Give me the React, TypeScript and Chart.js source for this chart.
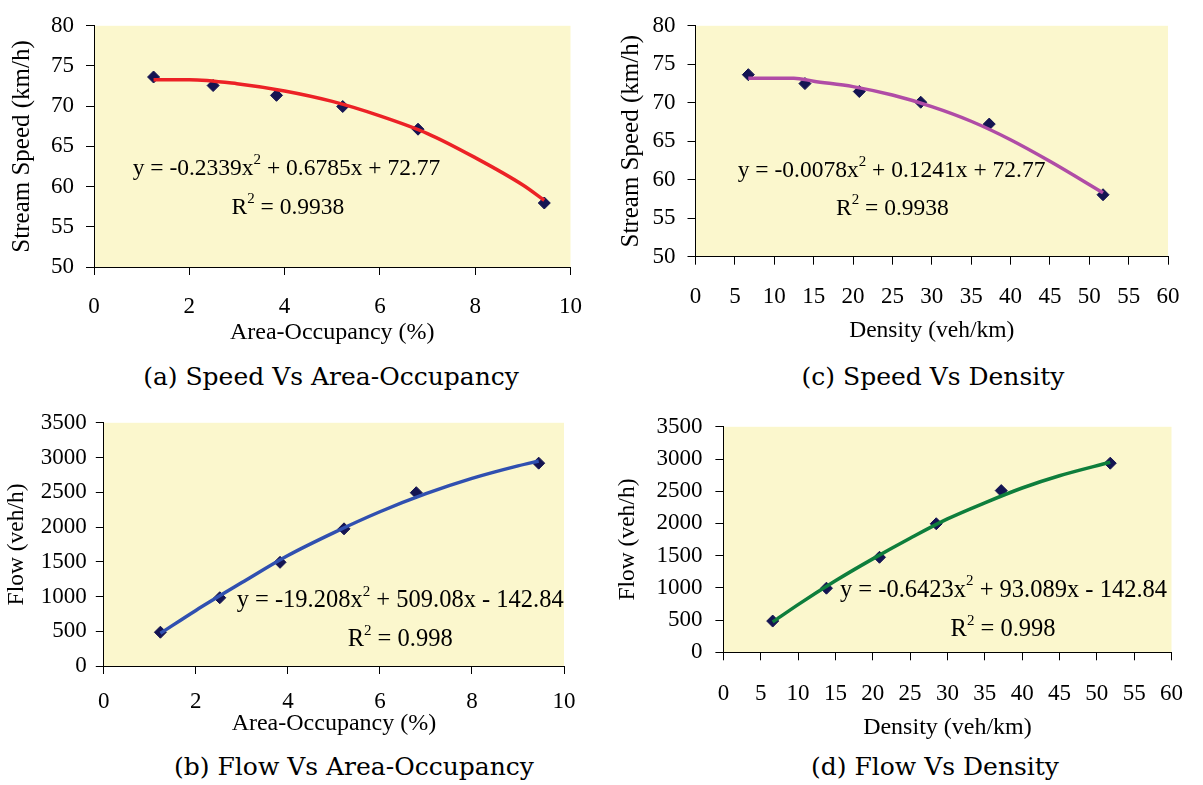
import React, { useEffect, useRef } from "react";
import { Chart, registerables } from "chart.js";

Chart.register(...registerables);

// ---------- (a) Speed vs Area-Occupancy ----------
const occA = [1.25, 2.5, 3.83, 5.22, 6.8, 9.45];
const speedA = [73.63, 72.57, 71.35, 69.96, 67.14, 57.96];
const trendOccA = [1.25, 2, 3, 4, 5, 6, 7, 8, 9, 9.45];
const trendSpeedA = [73.3, 73.3, 72.8, 71.9, 70.6, 68.8, 66.6, 63.6, 60.2, 58.3];

// ---------- (c) Speed vs Density ----------
const denC = [6.71, 13.9, 20.8, 28.6, 37.3, 51.75];
const speedC = [73.65, 72.49, 71.46, 70.07, 67.23, 58.05];
const trendDenC = [6.7, 10, 12.5, 15, 20, 25, 30, 35, 40, 45, 51.75];
const trendSpeedC = [73.2, 73.2, 73.2, 72.8, 72.1, 71.0, 69.5, 67.6, 65.2, 62.4, 58.3];

// ---------- (b) Flow vs Area-Occupancy ----------
const occB = [1.23, 2.52, 3.83, 5.22, 6.79, 9.45];
const flowB = [486, 982, 1492, 1974, 2494, 2919];
const trendOccB = [1.23, 2, 3, 4, 5, 6, 7, 8, 9, 9.45];
const trendFlowB = [470, 800, 1200, 1590, 1920, 2220, 2480, 2700, 2880, 2950];

// ---------- (d) Flow vs Density ----------
const denD = [6.6, 13.8, 20.9, 28.5, 37.2, 51.8];
const flowD = [485, 995, 1475, 1995, 2510, 2935];
const trendDenD = [6.6, 10, 15, 20, 25, 30, 35, 40, 45, 51.8];
const trendFlowD = [470, 740, 1110, 1450, 1770, 2070, 2320, 2550, 2740, 2950];

// ---------- text ----------
const captions = [
  "(a) Speed Vs Area-Occupancy",
  "(c) Speed Vs Density",
  "(b) Flow Vs Area-Occupancy",
  "(d) Flow Vs Density",
];
const xTitles = ["Area-Occupancy (%)", "Density (veh/km)", "Area-Occupancy (%)", "Density (veh/km)"];
const yTitles = ["Stream Speed (km/h)", "Stream Speed (km/h)", "Flow (veh/h)", "Flow (veh/h)"];

type Part = [string, boolean];
type Note = { x: number; y: number; parts: Part[] };

const notesA: Note[] = [
  { x: 4.04, y: 62.25, parts: [["y = -0.2339x", false], ["2", true], [" + 0.6785x + 72.77", false]] },
  { x: 4.07, y: 57.35, parts: [["R", false], ["2", true], [" = 0.9938", false]] },
];
const notesC: Note[] = [
  { x: 24.9, y: 61.17, parts: [["y = -0.0078x", false], ["2", true], [" + 0.1241x + 72.77", false]] },
  { x: 25.0, y: 56.2, parts: [["R", false], ["2", true], [" = 0.9938", false]] },
];
const notesB: Note[] = [
  { x: 6.44, y: 935, parts: [["y = -19.208x", false], ["2", true], [" + 509.08x - 142.84", false]] },
  { x: 6.44, y: 378, parts: [["R", false], ["2", true], [" = 0.998", false]] },
];
const notesD: Note[] = [
  { x: 37.5, y: 965, parts: [["y = -0.6423x", false], ["2", true], [" + 93.089x - 142.84", false]] },
  { x: 37.45, y: 350, parts: [["R", false], ["2", true], [" = 0.998", false]] },
];

const SERIF = '"Liberation Serif", "Times New Roman", serif';
const NAVY = "#141452";
const PLOT_BG = "#FBF7CD";

type Panel = {
  left: number; top: number; width: number; height: number;
  cl: number; cr: number; ct: number; cb: number;
  xMin: number; xMax: number; xStep: number;
  yMin: number; yMax: number; yStep: number;
  xs: number[]; ys: number[]; tx: number[]; ty: number[];
  color: string; notes: Note[]; noteSize: number;
  xTitle: string; yTitle: string;
  xTickPad: number; xTitleSize: number; xTitlePad: number;
  yTickPad: number; yTitleSize: number; yTitlePad: number;
  caption: string; capX: number; capY: number;
};

const panels: Panel[] = [
  {
    left: 0, top: 0, width: 600, height: 350, cl: 94, cr: 576, ct: 22, cb: 267,
    xMin: 0, xMax: 10, xStep: 2, yMin: 50, yMax: 80, yStep: 5,
    xs: occA, ys: speedA, tx: trendOccA, ty: trendSpeedA, color: "#EC2226",
    notes: notesA, noteSize: 23.5, xTitle: xTitles[0], yTitle: yTitles[0],
    xTickPad: 18, xTitleSize: 24, xTitlePad: 3, yTickPad: 12, yTitleSize: 25, yTitlePad: 7.5,
    caption: captions[0], capX: 331, capY: 377,
  },
  {
    left: 600, top: 0, width: 603, height: 350, cl: 95.5, cr: 568, ct: 15.7, cb: 256.7,
    xMin: 0, xMax: 60, xStep: 5, yMin: 50, yMax: 80, yStep: 5,
    xs: denC, ys: speedC, tx: trendDenC, ty: trendSpeedC, color: "#B04CA6",
    notes: notesC, noteSize: 23.5, xTitle: xTitles[1], yTitle: yTitles[1],
    xTickPad: 18, xTitleSize: 23.5, xTitlePad: 5, yTickPad: 12, yTitleSize: 25, yTitlePad: 16,
    caption: captions[1], capX: 933, capY: 377,
  },
  {
    left: 0, top: 400, width: 600, height: 350, cl: 103.8, cr: 564, ct: 19, cb: 266,
    xMin: 0, xMax: 10, xStep: 2, yMin: 0, yMax: 3500, yStep: 500,
    xs: occB, ys: flowB, tx: trendOccB, ty: trendFlowB, color: "#3050B0",
    notes: notesB, noteSize: 24.5, xTitle: xTitles[2], yTitle: yTitles[2],
    xTickPad: 14, xTitleSize: 24, xTitlePad: 11.5, yTickPad: 9, yTitleSize: 23.5, yTitlePad: 3,
    caption: captions[2], capX: 354, capY: 767,
  },
  {
    left: 600, top: 400, width: 603, height: 350, cl: 123.4, cr: 572.8, ct: 19, cb: 252.3,
    xMin: 0, xMax: 60, xStep: 5, yMin: 0, yMax: 3500, yStep: 500,
    xs: denD, ys: flowD, tx: trendDenD, ty: trendFlowD, color: "#0E7E3C",
    notes: notesD, noteSize: 24.5, xTitle: xTitles[3], yTitle: yTitles[3],
    xTickPad: 20, xTitleSize: 24, xTitlePad: 7.5, yTickPad: 13, yTitleSize: 23.5, yTitlePad: 14,
    caption: captions[3], capX: 935, capY: 767,
  },
];

function makeConfig(p: Panel): any {
  const bgPlugin = {
    id: "plotBg",
    beforeDraw(chart: any) {
      const { ctx, chartArea } = chart;
      ctx.save();
      ctx.fillStyle = PLOT_BG;
      ctx.fillRect(chartArea.left, chartArea.top, chartArea.right - chartArea.left, chartArea.bottom - chartArea.top);
      ctx.restore();
    },
  };
  const notesPlugin = {
    id: "notes",
    afterDatasetsDraw(chart: any) {
      const { ctx } = chart;
      const sx = chart.scales.x;
      const sy = chart.scales.y;
      const size = p.noteSize;
      const mainFont = `${size}px ${SERIF}`;
      const supFont = `${Math.round(size * 0.62)}px ${SERIF}`;
      for (const n of p.notes) {
        const cx = sx.getPixelForValue(n.x);
        const cy = sy.getPixelForValue(n.y);
        ctx.save();
        let total = 0;
        for (const [t, sup] of n.parts) {
          ctx.font = sup ? supFont : mainFont;
          total += ctx.measureText(t).width;
        }
        let x = cx - total / 2;
        ctx.fillStyle = "#000";
        ctx.textAlign = "left";
        ctx.textBaseline = "middle";
        for (const [t, sup] of n.parts) {
          ctx.font = sup ? supFont : mainFont;
          ctx.fillText(t, x, sup ? cy - size * 0.36 : cy);
          x += ctx.measureText(t).width;
        }
        ctx.restore();
      }
    },
  };
  const plain = (v: any) => String(v);
  return {
    type: "scatter",
    data: {
      datasets: [
        {
          data: p.tx.map((x, i) => ({ x, y: p.ty[i] })),
          showLine: true,
          borderColor: p.color,
          backgroundColor: p.color,
          borderWidth: 3.5,
          pointRadius: 0,
          cubicInterpolationMode: "monotone",
          order: 0,
        },
        {
          data: p.xs.map((x, i) => ({ x, y: p.ys[i] })),
          showLine: false,
          pointStyle: "rectRot",
          pointRadius: 6,
          backgroundColor: NAVY,
          borderColor: NAVY,
          borderWidth: 1,
          order: 1,
        },
      ],
    },
    options: {
      responsive: false,
      animation: false,
      devicePixelRatio: 1,
      layout: { padding: { top: p.ct, right: p.width - p.cr, left: 0, bottom: 0 } },
      plugins: { legend: { display: false }, tooltip: { enabled: false } },
      scales: {
        x: {
          type: "linear",
          min: p.xMin,
          max: p.xMax,
          ticks: {
            stepSize: p.xStep,
            color: "#000",
            font: { family: SERIF, size: 23 },
            padding: p.xTickPad,
            maxRotation: 0,
            autoSkip: false,
            callback: plain,
          },
          grid: { drawOnChartArea: false, color: "#000", tickLength: 8, lineWidth: 1 },
          border: { color: "#000", width: 1 },
          title: {
            display: true,
            text: p.xTitle,
            color: "#000",
            font: { family: SERIF, size: p.xTitleSize },
            padding: { top: 0, bottom: p.xTitlePad },
          },
          afterFit: (s: any) => {
            s.height = p.height - p.cb;
          },
        },
        y: {
          type: "linear",
          min: p.yMin,
          max: p.yMax,
          ticks: {
            stepSize: p.yStep,
            color: "#000",
            font: { family: SERIF, size: 23 },
            padding: p.yTickPad,
            autoSkip: false,
            callback: plain,
          },
          grid: { drawOnChartArea: false, color: "#000", tickLength: 8, lineWidth: 1 },
          border: { color: "#000", width: 1 },
          title: {
            display: true,
            text: p.yTitle,
            color: "#000",
            font: { family: SERIF, size: p.yTitleSize },
            padding: { top: p.yTitlePad, bottom: 0 },
          },
          afterFit: (s: any) => {
            s.width = p.cl;
          },
        },
      },
    },
    plugins: [bgPlugin, notesPlugin],
  };
}

function ChartPanel({ p }: { p: Panel }) {
  const ref = useRef<HTMLCanvasElement | null>(null);
  useEffect(() => {
    if (!ref.current) return;
    const chart = new Chart(ref.current, makeConfig(p));
    return () => chart.destroy();
  }, [p]);
  return (
    <canvas
      ref={ref}
      width={p.width}
      height={p.height}
      style={{ position: "absolute", left: p.left, top: p.top, width: p.width, height: p.height }}
    />
  );
}

export default function App() {
  return (
    <div
      style={{
        position: "absolute",
        left: 0,
        top: 0,
        width: 1203,
        height: 785,
        background: "#fff",
        overflow: "hidden",
      }}
    >
      {panels.map((p, i) => (
        <ChartPanel key={i} p={p} />
      ))}
      {panels.map((p, i) => (
        <div
          key={"c" + i}
          style={{
            position: "absolute",
            left: p.capX,
            top: p.capY - 15,
            transform: "translateX(-50%)",
            whiteSpace: "nowrap",
            fontFamily: '"DejaVu Serif", serif',
            fontSize: 25,
            lineHeight: "30px",
            color: "#000",
          }}
        >
          {p.caption}
        </div>
      ))}
    </div>
  );
}
